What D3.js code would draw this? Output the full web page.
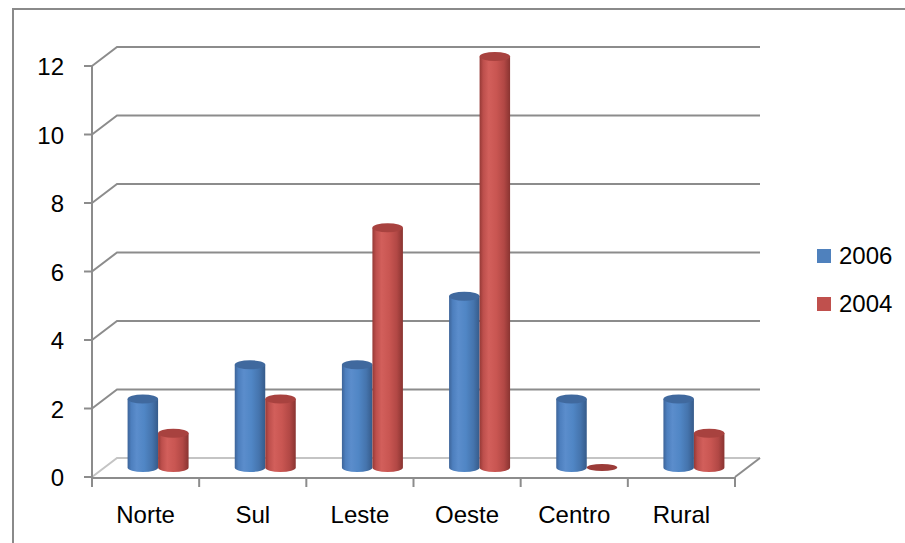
<!DOCTYPE html>
<html><head><meta charset="utf-8">
<script src="https://cdn.jsdelivr.net/npm/d3@7"></script>
<style>body{margin:0;background:#fff}svg{display:block}text{font-family:"Liberation Sans",Arial,sans-serif;fill:#000}</style>
</head><body>
<svg id="c" width="905" height="543"></svg>
<script>
const categories = ["Norte","Sul","Leste","Oeste","Centro","Rural"];
const series = ["2006","2004"];
const values2006 = [2,3,3,5,2,2];
const values2004 = [1,2,7,12,0,1];
const yTicks = [0,2,4,6,8,10,12];

const svg = d3.select("#c");
const W=905,H=543;
const x0=92, x1=735, yBot=477, yTop=66, dx=25, dy=-19;
const x = d3.scaleBand().domain(categories).range([x0,x1]);
const y = d3.scaleLinear().domain([0,12]).range([yBot,yTop]);
const grid="#8c8c8c";

// outer frame
svg.append("path").attr("d",`M13,${H+5}V9H${W+5}`).attr("fill","none").attr("stroke","#8a8a8a").attr("stroke-width",2);

const defs=svg.append("defs");
function grad(id,stops){
  const g=defs.append("linearGradient").attr("id",id).attr("x1","0").attr("x2","1").attr("y1","0").attr("y2","0");
  stops.forEach(s=>g.append("stop").attr("offset",s[0]).attr("stop-color",s[1]));
}
grad("gb",[[0,"#3d6499"],[0.12,"#4d7fbe"],[0.3,"#5b8dcc"],[0.55,"#5086c5"],[0.8,"#4574ad"],[1,"#365b8a"]]);
grad("gr",[[0,"#963936"],[0.12,"#bd4f4c"],[0.3,"#d25f5b"],[0.55,"#c95652"],[0.8,"#b24845"],[1,"#893431"]]);
const cols={"2006":{side:"url(#gb)",top:"#40699e",flat:"#3d6499"},"2004":{side:"url(#gr)",top:"#a8423f",flat:"#9b3b38"}};

// gridlines (back wall) with diagonals
yTicks.forEach(t=>{
  const yy=y(t);
  svg.append("path").attr("d",`M${x0},${yy}L${x0+dx},${yy+dy}H${x1+dx}`)
    .attr("fill","none").attr("stroke",t===0?"#c4c4c4":grid).attr("stroke-width",2);
});
// floor right diagonal
svg.append("path").attr("d",`M${x1},${yBot}L${x1+dx},${yBot+dy}`).attr("stroke",grid).attr("stroke-width",2).attr("fill","none");

// y axis
svg.append("line").attr("x1",x0).attr("x2",x0).attr("y1",y(0)).attr("y2",y(12)).attr("stroke",grid).attr("stroke-width",2);
yTicks.forEach(t=>{
  svg.append("line").attr("x1",x0-8).attr("x2",x0).attr("y1",y(t)).attr("y2",y(t)).attr("stroke",grid).attr("stroke-width",2);
  svg.append("text").attr("x",64).attr("y",y(t)+9).attr("text-anchor","end").attr("font-size",24).text(t);
});

// bars (cylinders)
const bw=30.5, r=bw/2, ry=4.5;
const ymid=v=>y(v)+dy/2;
const data=[];
categories.forEach((c,i)=>{
  data.push({c,s:"2006",v:values2006[i],k:0});
  data.push({c,s:"2004",v:values2004[i],k:1});
});
data.forEach(d=>{
  const cx=x(d.c)+x.bandwidth()/2+(d.k===0?-r:r)+dx/2;
  const yb=ymid(0), yt=ymid(d.v);
  const g=svg.append("g");
  if(d.v>0){
    g.append("path").attr("d",`M${cx-r},${yt}V${yb}A${r},${ry} 0 0 0 ${cx+r},${yb}V${yt}Z`).attr("fill",cols[d.s].side);
    g.append("ellipse").attr("cx",cx).attr("cy",yt).attr("rx",r).attr("ry",ry).attr("fill",cols[d.s].top);
  } else {
    g.append("ellipse").attr("cx",cx).attr("cy",yb).attr("rx",r).attr("ry",ry-1).attr("fill",cols[d.s].flat);
  }
});

// x axis
svg.append("line").attr("x1",x0).attr("x2",x1).attr("y1",yBot+1).attr("y2",yBot+1).attr("stroke",grid).attr("stroke-width",2);
categories.forEach((c,i)=>{
  const xs=x(c);
  svg.append("line").attr("x1",xs).attr("x2",xs).attr("y1",yBot).attr("y2",yBot+10).attr("stroke",grid).attr("stroke-width",2);
  svg.append("text").attr("x",xs+x.bandwidth()/2).attr("y",523).attr("text-anchor","middle").attr("font-size",24).text(c);
});
svg.append("line").attr("x1",x1).attr("x2",x1).attr("y1",yBot).attr("y2",yBot+10).attr("stroke",grid).attr("stroke-width",2);

// legend
series.forEach((s,i)=>{
  const ly=249+i*48;
  svg.append("rect").attr("x",817).attr("y",ly).attr("width",14).attr("height",14).attr("fill",i===0?"#4f81bd":"#c0504d");
  svg.append("text").attr("x",839).attr("y",ly+15).attr("font-size",24).text(s);
});
</script>
</body></html>
